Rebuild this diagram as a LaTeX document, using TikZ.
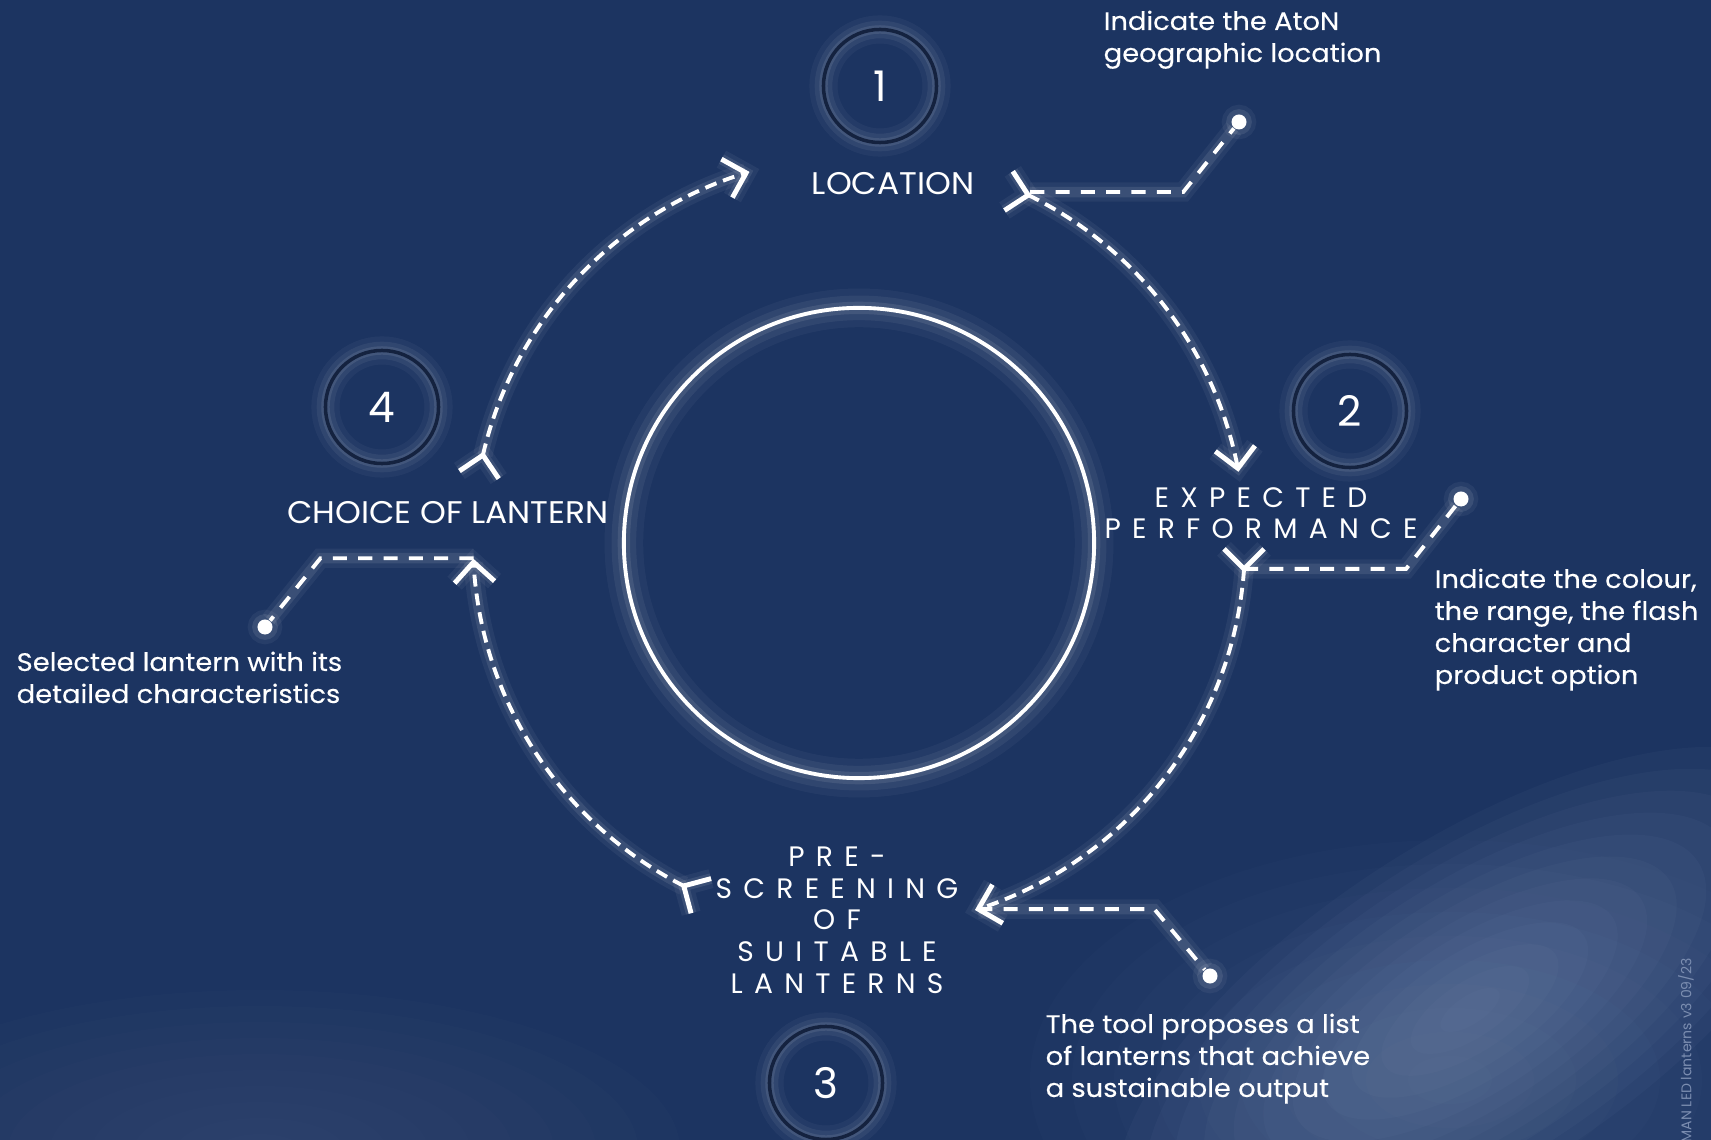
\documentclass[tikz,border=0pt]{standalone}
\usepackage{fontspec}
\setmainfont{Poppins}
\newfontfamily\spacedfont[LetterSpace=40]{Poppins}
\newfontfamily\stagefont[FakeStretch=1.05]{Poppins}
\newfontfamily\notefont[FakeStretch=1.08, FakeBold=0.3]{Poppins}
\usetikzlibrary{calc}
\definecolor{navy}{HTML}{1C3461}
\definecolor{ringc}{HTML}{14223F}
\definecolor{cloud}{HTML}{8A9CC0}
\definecolor{faint}{HTML}{7B8DB0}
\tikzset{
  glow/.style={preaction={draw=white, solid, opacity=0.05, line width=5.5pt},
               preaction={draw=white, solid, opacity=0.09, line width=3pt}},
  flow/.style={glow, draw=white, line width=1.1pt, dash pattern=on 3.4pt off 2pt},
  lead/.style={glow, draw=white, line width=1.1pt, dash pattern=on 4pt off 3.2pt},
  tipline/.style={glow, draw=white, line width=1.4pt},
  chev/.pic={\draw[tipline] (-20,20) -- (0,0) -- (-20,-20);},
  num/.style={circle, draw=ringc, line width=1pt, minimum size=1.13cm, inner sep=0pt,
    preaction={draw=white, opacity=0.04, line width=8pt},
    preaction={draw=white, opacity=0.06, line width=5pt},
    preaction={draw=white, opacity=0.09, line width=2.4pt},
    text=white, font=\fontsize{12}{12}\selectfont},
  stage/.style={text=white, font=\fontsize{8.9}{10}\stagefont, inner sep=0pt},
  spaced/.style={text=white, align=center, font=\fontsize{8}{9}\spacedfont, inner sep=0pt},
  note/.style={text=white, align=left, anchor=north west, font=\fontsize{7.2}{9.1}\notefont, inner sep=0pt},
  dot/.style={circle, fill=white, minimum size=0.15cm, inner sep=0pt, glow},
}
\begin{document}
\begin{tikzpicture}[x=0.01cm, y=-0.01cm]
  %%%%% BACKGROUND %%%%%
  \fill[navy] (0,0) rectangle (1711,1140);
  \useasboundingbox (0,0) rectangle (1711,1140);
  \foreach \k in {1,...,10}
    \fill[cloud, opacity=0.025] (1450,1080) ellipse ({42*\k} and {24*\k});
  \foreach \k in {1,...,12}
    \fill[cloud, opacity=0.05, rotate around={33:(1470,1010)}] (1470,1010) ellipse ({34*\k} and {14*\k});
  \foreach \k in {1,...,10}
    \fill[cloud, opacity=0.02] (260,1150) ellipse ({42*\k} and {16*\k});

  %%%%% HUB %%%%%
  \node[circle, draw=white, line width=1.1pt, minimum size=4.7cm, inner sep=0pt,
    preaction={draw=white, opacity=0.04, line width=11pt},
    preaction={draw=white, opacity=0.06, line width=7pt},
    preaction={draw=white, opacity=0.09, line width=3.5pt}] (hub) at (859,543) {};

  %%%%% STAGES %%%%%
  \node[stage] (loc) at (893,184) {LOCATION};
  \node[stage] (choice) at (448,513) {CHOICE OF LANTERN};
  \node[spaced] (perf) at (1261,513) {EXPECTED\\PERFORMANCE};
  \node[spaced] (scr) at (837,920) {PRE-\\SCREENING\\OF\\SUITABLE\\LANTERNS};

  \node[num] (n1) at (880,86) {1};
  \node[num] (n2) at (1350,411) {2};
  \node[num] (n3) at (826,1083) {3};
  \node[num] (n4) at (382,407) {4};

  %%%%% CYCLE %%%%%
  \coordinate (ctr) at (859,542);
  \foreach \n/\a in {s1/-64, e1/-11, s2/4, e2/72, s3/117, e3/177, s4/193, e4/253}
    \coordinate (\n) at ($(ctr)+(\a:386)$);
  \foreach \a/\b in {-64/-11, 4/72, 117/177, 193/253}
    \draw[flow] ($(ctr)+(\a:386)$) arc[start angle=\a, end angle=\b, radius=386];

  \pic[rotate=-12] at (s1) {chev};
  \pic[rotate=-82] at (e1) {chev};
  \pic[rotate=-90] at (s2) {chev};
  \pic[rotate=195] at (e2) {chev};
  \pic[rotate=150] at (s3) {chev};
  \pic[rotate=93] at (e3) {chev};
  \pic[rotate=79] at (s4) {chev};
  \pic[rotate=16] at (e4) {chev};

  %%%%% NOTES %%%%%
  \node[dot] (d1) at (1239,122) {};
  \node[dot] (d2) at (1461,499) {};
  \node[dot] (d3) at (1210,976) {};
  \node[dot] (d4) at (265,627) {};
  \draw[lead] ($(s1)+(2,-3)$) -- ++(153,0) -- (d1);
  \draw[lead] (s2) -- ++(162,0) -- (d2);
  \draw[lead] (e2) -- ++(176,0) -- (d3);
  \draw[lead] ($(e3)+(0,-4)$) -- ++(-153,0) -- (d4);

  \node[note] (t1) at (1103,10) {Indicate the AtoN\\geographic location};
  \node[note] (t2) at (1434,568) {Indicate the colour,\\the range, the flash\\character and\\product option};
  \node[note] (t3) at (16,651) {Selected lantern with its\\detailed characteristics};
  \node[note] (t4) at (1045,1013) {The tool proposes a list\\of lanterns that achieve\\a sustainable output};

  \node[rotate=90, anchor=west, text=faint, font=\fontsize{4}{5}\selectfont, inner sep=0pt] (ver) at (1686,1143) {MAN LED lanterns v3 09/23};
\end{tikzpicture}
\end{document}
